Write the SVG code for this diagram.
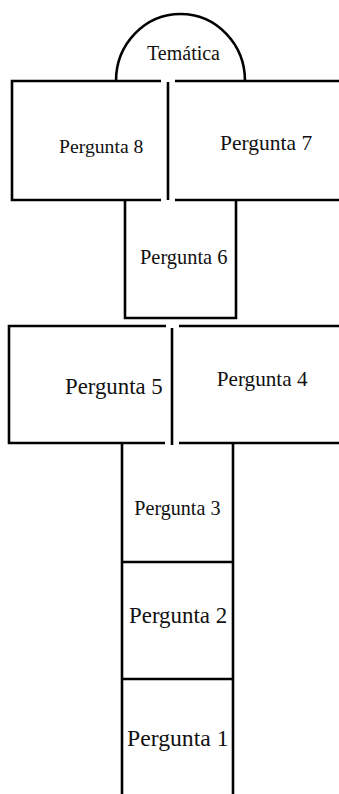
<svg xmlns="http://www.w3.org/2000/svg" width="339" height="794" viewBox="0 0 339 794">
<style>
.ln{fill:none;stroke:#000;stroke-width:2.6}
</style>
<rect width="339" height="794" fill="#fff"/>
<g id="tematica">
<path class="ln" d="M116,81 A64.5,67 0 0 1 245,81"/>
<text x="147" y="60" font-size="20" font-family="Liberation Serif" fill="#111">Tem&#225;tica</text>
</g>
<g id="pergunta8">
<path class="ln" d="M161,81 H12 V200 H161"/>
<text x="59" y="153" font-size="19.7" font-family="Liberation Serif" fill="#111">Pergunta 8</text>
</g>
<g id="pergunta7">
<path class="ln" d="M175,81 H339 M175,200 H339 M168,82 V200"/>
<text x="220" y="150" font-size="21.5" font-family="Liberation Serif" fill="#111">Pergunta 7</text>
</g>
<g id="pergunta6">
<path class="ln" d="M125,200 V318 H236 V200"/>
<text x="140" y="264" font-size="20.4" font-family="Liberation Serif" fill="#111">Pergunta 6</text>
</g>
<g id="pergunta5">
<path class="ln" d="M166,326 H9 V443 H165"/>
<text x="65" y="394" font-size="22.8" font-family="Liberation Serif" fill="#111">Pergunta 5</text>
</g>
<g id="pergunta4">
<path class="ln" d="M179,326 H339 M179,443 H339 M172,328 V445"/>
<text x="216.7" y="386" font-size="21.2" font-family="Liberation Serif" fill="#111">Pergunta 4</text>
</g>
<g id="pergunta3">
<path class="ln" d="M122,443 V562 M233,443 V562 M122,562 H233"/>
<text x="134.3" y="515" font-size="20.1" font-family="Liberation Serif" fill="#111">Pergunta 3</text>
</g>
<g id="pergunta2">
<path class="ln" d="M122,562 V679 M233,562 V679 M122,679 H233"/>
<text x="129" y="623" font-size="22.9" font-family="Liberation Serif" fill="#111">Pergunta 2</text>
</g>
<g id="pergunta1">
<path class="ln" d="M122,679 V794 M233,679 V794"/>
<text x="127" y="746" font-size="23.7" font-family="Liberation Serif" fill="#111">Pergunta 1</text>
</g>
<g id="connectors"></g>
</svg>
